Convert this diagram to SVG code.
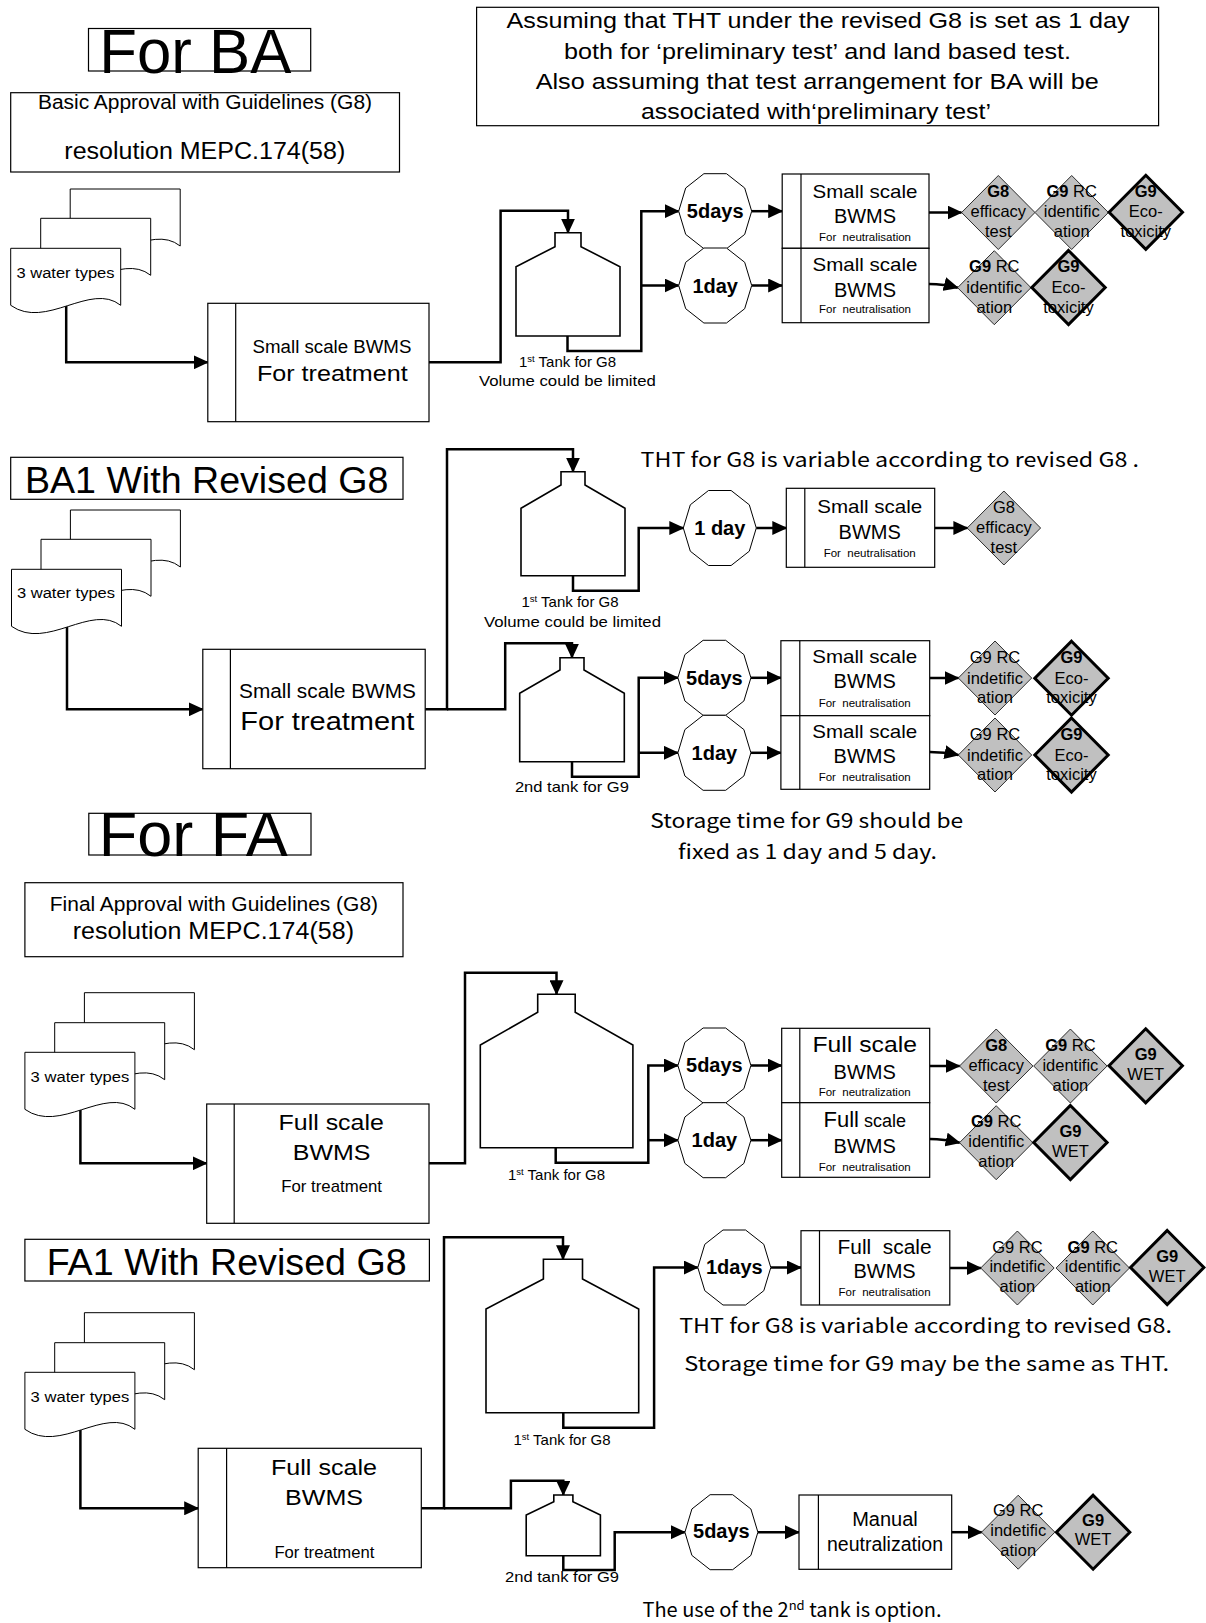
<svg xmlns="http://www.w3.org/2000/svg" width="1206" height="1623" viewBox="0 0 1206 1623">
<style>
 .bx{fill:#fff;stroke:#000;stroke-width:1.2}
 .ln{fill:none;stroke:#000;stroke-width:1.2}
 .c{fill:none;stroke:#000;stroke-width:2.5}
 .ca{fill:none;stroke:#000;stroke-width:2.5;marker-end:url(#ah)}
 .doc{fill:#fff;stroke:#000;stroke-width:1}
 .tank{fill:#fff;stroke:#000;stroke-width:1.6}
 .oct{fill:#fff;stroke:#000;stroke-width:1}
 .dg{fill:#c0c0c0;stroke:#000;stroke-width:0.8}
 .dk{fill:#c0c0c0;stroke:#000;stroke-width:3}
 text{font-family:"Liberation Sans",Arial,sans-serif;fill:#000}
 .m{text-anchor:middle}
 .b{font-weight:bold}
 .oc{font-size:20px;font-weight:bold;text-anchor:middle}
 .dt{font-size:16.5px;text-anchor:middle}
 .sm{font-size:11.5px;text-anchor:middle}
 .tk{font-size:15px;text-anchor:middle}
 .wt{font-size:15.5px}
 .jp{font-family:"Noto Sans CJK JP","Noto Sans",sans-serif;font-size:20px}
</style>
<defs>
 <marker id="ah" markerWidth="15" markerHeight="14" refX="14" refY="7" orient="auto" markerUnits="userSpaceOnUse"><path d="M0,0 L15,7 L0,14 Z" fill="#000"/></marker>
 <path id="doc" d="M0,0 H110 V57 C80,33 35,82 0,57 Z"/>
 <polygon id="dec" points="11.3,-37.5 -11.3,-37.5 -29.5,-23.2 -36.5,0 -29.5,23.2 -11.3,37.5 11.3,37.5 29.5,23.2 36.5,0 29.5,-23.2"/>
 <polygon id="dia" points="0,-37 36.7,0 0,37 -36.7,0"/>
</defs>

<g id="connectors">
 <!-- BA -->
 <path class="ca" d="M66.2,305 V362.3 H207.8"/>
 <path class="ca" d="M429,362.3 H500.6 V210.7 H568 V232.7"/>
 <path class="ca" d="M567.5,336 V351 H641.3 V211.2 H678.7"/>
 <path class="ca" d="M641.3,285.5 H678.7"/>
 <path class="ca" d="M751.7,211.2 H782.2"/>
 <path class="ca" d="M751.7,285.5 H782.2"/>
 <path class="ca" d="M929,212.5 H961.5"/>
 <path class="ca" d="M929,284 Q944,284 957.8,287.7"/>
 <!-- BA1 -->
 <path class="ca" d="M67,626 V709.3 H202.8"/>
 <path class="ca" d="M425.2,709.3 H447 V449.3 H573 V471.7"/>
 <path class="ca" d="M447,709.3 H505.2 V643.3 H572 V657.7"/>
 <path class="ca" d="M573,575.7 V590.7 H638.7 V528 H683.3"/>
 <path class="ca" d="M756.3,528 H786.3"/>
 <path class="ca" d="M934.7,528 H967.4"/>
 <path class="ca" d="M572,761.7 V776.7 H638.7 V677.8 H677.9"/>
 <path class="ca" d="M638.7,752.8 H677.9"/>
 <path class="ca" d="M750.9,677.8 H780.9"/>
 <path class="ca" d="M750.9,752.8 H780.9"/>
 <path class="ca" d="M929.7,678 H958.5"/>
 <path class="ca" d="M929.7,752 Q944,752 958.5,755"/>
 <!-- FA -->
 <path class="ca" d="M80.4,1110 V1163.3 H206.7"/>
 <path class="ca" d="M429,1163.3 H465 V972.7 H556.5 V994.3"/>
 <path class="ca" d="M555.7,1147.7 V1162.7 H648.3 V1065.5 H677.9"/>
 <path class="ca" d="M648.3,1140.2 H677.9"/>
 <path class="ca" d="M750.9,1065.5 H781.7"/>
 <path class="ca" d="M750.9,1140.2 H781.7"/>
 <path class="ca" d="M929.7,1066 H959.7"/>
 <path class="ca" d="M929.7,1139 Q944,1139 959.7,1142.7"/>
 <!-- FA1 -->
 <path class="ca" d="M80.4,1430 V1508.3 H198.2"/>
 <path class="ca" d="M421.3,1508.3 H444 V1237.3 H563 V1259.3"/>
 <path class="ca" d="M444,1508.3 H510.9 V1480.7 H563.3 V1495"/>
 <path class="ca" d="M563.3,1412.7 V1427.7 H654.1 V1267.5 H697.8"/>
 <path class="ca" d="M770.8,1267.5 H801"/>
 <path class="ca" d="M949.8,1268 H980.9"/>
 <path class="ca" d="M563.3,1555.7 V1570 H614.7 V1532.2 H684.9"/>
 <path class="ca" d="M757.9,1532.2 H799"/>
 <path class="ca" d="M951.7,1532.2 H981.7"/>
</g>

<!-- ================= BA ================= -->
<g id="ba-title">
 <rect class="bx" x="88.5" y="28.5" width="222.2" height="42.5"/>
 <text x="99.3" y="72.7" font-size="63" textLength="192" lengthAdjust="spacingAndGlyphs">For BA</text>
</g>
<g id="ba-basic">
 <rect class="bx" x="10.7" y="92.7" width="388.8" height="79.3"/>
 <text x="38" y="109" font-size="19.5" textLength="334" lengthAdjust="spacingAndGlyphs">Basic Approval with Guidelines (G8)</text>
 <text x="64.3" y="159.3" font-size="24.6" textLength="281" lengthAdjust="spacingAndGlyphs">resolution MEPC.174(58)</text>
</g>
<g id="assumption">
 <rect class="bx" x="476.6" y="7.3" width="682" height="118.4"/>
 <text x="506.6" y="28.3" font-size="21.5" textLength="623" lengthAdjust="spacingAndGlyphs">Assuming that THT under the revised G8 is set as 1 day</text>
 <text x="564" y="59.3" font-size="21.5" textLength="507" lengthAdjust="spacingAndGlyphs">both for ‘preliminary test’ and land based test.</text>
 <text x="535.7" y="89.3" font-size="21.5" textLength="563" lengthAdjust="spacingAndGlyphs">Also assuming that test arrangement for BA will be</text>
 <text x="641" y="119.3" font-size="21.5" textLength="350" lengthAdjust="spacingAndGlyphs">associated with‘preliminary test’</text>
</g>
<g id="ba-water">
 <use href="#doc" class="doc" x="70.2" y="189"/>
 <use href="#doc" class="doc" x="40.7" y="218.3"/>
 <use href="#doc" class="doc" x="10.7" y="248.3"/>
 <text class="wt" x="16.5" y="277.7" textLength="98" lengthAdjust="spacingAndGlyphs">3 water types</text>
</g>
<g id="ba-bwms">
 <rect class="bx" x="207.8" y="303.3" width="221.2" height="118.4"/>
 <line class="ln" x1="235.7" y1="303.3" x2="235.7" y2="421.7"/>
 <text x="252.6" y="352.7" font-size="18" textLength="158.8" lengthAdjust="spacingAndGlyphs">Small scale BWMS</text>
 <text x="257" y="381" font-size="22.5" textLength="150.6" lengthAdjust="spacingAndGlyphs">For treatment</text>
</g>
<g id="ba-tank">
 <path class="tank" d="M555,232.7 H581 V246.7 L620,266.7 V336 H516 V266.7 L555,246.7 Z"/>
 <text class="tk" x="567.5" y="366.7">1<tspan font-size="9.5" dy="-5">st</tspan><tspan dy="5"> Tank for G8</tspan></text>
 <text class="tk" x="567.4" y="386" textLength="177" lengthAdjust="spacingAndGlyphs">Volume could be limited</text>
</g>
<g id="ba-5days">
 <use href="#dec" class="oct" x="715.2" y="211.2"/>
 <text class="oc" x="715.2" y="218">5days</text>
</g>
<g id="ba-1day">
 <use href="#dec" class="oct" x="715.2" y="285.5"/>
 <text class="oc" x="715.2" y="293">1day</text>
</g>
<g id="ba-neut1">
 <rect class="bx" x="782.2" y="174" width="146.8" height="74.3"/>
 <line class="ln" x1="801" y1="174" x2="801" y2="248.3"/>
 <text class="m" x="865" y="198.3" font-size="19" textLength="105" lengthAdjust="spacingAndGlyphs">Small scale</text>
 <text class="m" x="865" y="222.7" font-size="20">BWMS</text>
 <text class="sm" x="865" y="240.7">For&#160; neutralisation</text>
</g>
<g id="ba-neut2">
 <rect class="bx" x="782.2" y="248.3" width="146.8" height="74.4"/>
 <line class="ln" x1="801" y1="248.3" x2="801" y2="322.7"/>
 <text class="m" x="865" y="270.7" font-size="19" textLength="105" lengthAdjust="spacingAndGlyphs">Small scale</text>
 <text class="m" x="865" y="296.7" font-size="20">BWMS</text>
 <text class="sm" x="865" y="313.3">For&#160; neutralisation</text>
</g>
<g id="ba-g8eff">
 <use href="#dia" class="dg" x="998.3" y="212.5"/>
 <text class="dt" x="998.3" y="197"><tspan class="b">G8</tspan></text>
 <text class="dt" x="998.3" y="217">efficacy</text>
 <text class="dt" x="998.3" y="237">test</text>
</g>
<g id="ba-g9rc1">
 <use href="#dia" class="dg" x="1071.7" y="212.5"/>
 <text class="dt" x="1071.7" y="197"><tspan class="b">G9</tspan> RC</text>
 <text class="dt" x="1071.7" y="217">identific</text>
 <text class="dt" x="1071.7" y="237">ation</text>
</g>
<g id="ba-g9eco1">
 <use href="#dia" class="dk" x="1145.8" y="212.3"/>
 <text class="dt" x="1145.8" y="197"><tspan class="b">G9</tspan></text>
 <text class="dt" x="1145.8" y="217">Eco-</text>
 <text class="dt" x="1145.8" y="237">toxicity</text>
</g>
<g id="ba-g9rc2">
 <use href="#dia" class="dg" x="994.3" y="287.7"/>
 <text class="dt" x="994.3" y="271.5"><tspan class="b">G9</tspan> RC</text>
 <text class="dt" x="994.3" y="292.5">identific</text>
 <text class="dt" x="994.3" y="312.5">ation</text>
</g>
<g id="ba-g9eco2">
 <use href="#dia" class="dk" x="1068.5" y="287.5"/>
 <text class="dt" x="1068.5" y="271.5"><tspan class="b">G9</tspan></text>
 <text class="dt" x="1068.5" y="292.5">Eco-</text>
 <text class="dt" x="1068.5" y="312.5">toxicity</text>
</g>

<!-- ================= BA1 ================= -->
<g id="ba1-title">
 <rect class="bx" x="10.7" y="457.3" width="392.3" height="42"/>
 <text x="24.9" y="493.3" font-size="36" textLength="363.5" lengthAdjust="spacingAndGlyphs">BA1 With Revised G8</text>
</g>
<g id="ba1-water">
 <use href="#doc" class="doc" x="70.4" y="510"/>
 <use href="#doc" class="doc" x="41" y="539.3"/>
 <use href="#doc" class="doc" x="11.5" y="569.3"/>
 <text class="wt" x="17" y="598.3" textLength="98" lengthAdjust="spacingAndGlyphs">3 water types</text>
</g>
<g id="ba1-bwms">
 <rect class="bx" x="202.8" y="649.3" width="222.4" height="119.4"/>
 <line class="ln" x1="230.4" y1="649.3" x2="230.4" y2="768.7"/>
 <text x="239" y="697.7" font-size="20" textLength="177" lengthAdjust="spacingAndGlyphs">Small scale BWMS</text>
 <text x="240.3" y="730" font-size="26" textLength="174" lengthAdjust="spacingAndGlyphs">For treatment</text>
</g>
<g id="ba1-tank1">
 <path class="tank" d="M561,471.7 H585 V485 L625,508.3 V575.7 H521 V508.3 L561,485 Z"/>
 <text class="tk" x="570" y="606.7">1<tspan font-size="9.5" dy="-5">st</tspan><tspan dy="5"> Tank for G8</tspan></text>
 <text class="tk" x="572.5" y="626.7" textLength="177" lengthAdjust="spacingAndGlyphs">Volume could be limited</text>
</g>
<g id="ba1-tank2">
 <path class="tank" d="M560,657.7 H584 V670 L624.3,693.3 V761.7 H519.7 V693.3 L560,670 Z"/>
 <text class="tk" x="571.9" y="791.7" textLength="114" lengthAdjust="spacingAndGlyphs">2nd tank for G9</text>
</g>
<g id="ba1-tht-note">
 <text class="jp" x="640.6" y="467.3" textLength="498.4" lengthAdjust="spacingAndGlyphs">THT for G8 is variable according to revised G8 .</text>
</g>
<g id="ba1-1day">
 <use href="#dec" class="oct" x="719.8" y="528"/>
 <text class="oc" x="719.8" y="535">1 day</text>
</g>
<g id="ba1-neut0">
 <rect class="bx" x="786.3" y="488.3" width="148.4" height="79"/>
 <line class="ln" x1="804.8" y1="488.3" x2="804.8" y2="567.3"/>
 <text class="m" x="869.7" y="513.3" font-size="19" textLength="105" lengthAdjust="spacingAndGlyphs">Small scale</text>
 <text class="m" x="869.7" y="539.3" font-size="20">BWMS</text>
 <text class="sm" x="869.7" y="556.7">For&#160; neutralisation</text>
</g>
<g id="ba1-g8eff">
 <use href="#dia" class="dg" x="1003.9" y="528"/>
 <text class="dt" x="1003.9" y="512.7">G8</text>
 <text class="dt" x="1003.9" y="533.3">efficacy</text>
 <text class="dt" x="1003.9" y="553.3">test</text>
</g>
<g id="ba1-5days">
 <use href="#dec" class="oct" x="714.4" y="677.8"/>
 <text class="oc" x="714.4" y="685">5days</text>
</g>
<g id="ba1-1dayb">
 <use href="#dec" class="oct" x="714.4" y="752.8"/>
 <text class="oc" x="714.4" y="760">1day</text>
</g>
<g id="ba1-neut1">
 <rect class="bx" x="780.9" y="640.7" width="148.8" height="75"/>
 <line class="ln" x1="799.8" y1="640.7" x2="799.8" y2="715.7"/>
 <text class="m" x="864.7" y="663.3" font-size="19" textLength="105" lengthAdjust="spacingAndGlyphs">Small scale</text>
 <text class="m" x="864.7" y="688.3" font-size="20">BWMS</text>
 <text class="sm" x="864.7" y="706.7">For&#160; neutralisation</text>
</g>
<g id="ba1-neut2">
 <rect class="bx" x="780.9" y="715.7" width="148.8" height="73.6"/>
 <line class="ln" x1="799.8" y1="715.7" x2="799.8" y2="789.3"/>
 <text class="m" x="864.7" y="738.3" font-size="19" textLength="105" lengthAdjust="spacingAndGlyphs">Small scale</text>
 <text class="m" x="864.7" y="763.3" font-size="20">BWMS</text>
 <text class="sm" x="864.7" y="780.7">For&#160; neutralisation</text>
</g>
<g id="ba1-g9rc1">
 <use href="#dia" class="dg" x="995" y="678"/>
 <text class="dt" x="995" y="663.3">G9 RC</text>
 <text class="dt" x="995" y="684">indetific</text>
 <text class="dt" x="995" y="703.3">ation</text>
</g>
<g id="ba1-g9eco1">
 <use href="#dia" class="dk" x="1071.5" y="678.2"/>
 <text class="dt" x="1071.5" y="663.3"><tspan class="b">G9</tspan></text>
 <text class="dt" x="1071.5" y="684">Eco-</text>
 <text class="dt" x="1071.5" y="703.3">toxicity</text>
</g>
<g id="ba1-g9rc2">
 <use href="#dia" class="dg" x="995" y="755"/>
 <text class="dt" x="995" y="740.3">G9 RC</text>
 <text class="dt" x="995" y="761">indetific</text>
 <text class="dt" x="995" y="780.3">ation</text>
</g>
<g id="ba1-g9eco2">
 <use href="#dia" class="dk" x="1071.5" y="755"/>
 <text class="dt" x="1071.5" y="740.3"><tspan class="b">G9</tspan></text>
 <text class="dt" x="1071.5" y="761">Eco-</text>
 <text class="dt" x="1071.5" y="780.3">toxicity</text>
</g>
<g id="ba1-storage-note">
 <text class="jp" x="650.2" y="828.3" textLength="313" lengthAdjust="spacingAndGlyphs">Storage time for G9 should be</text>
 <text class="jp" x="678" y="859" textLength="259" lengthAdjust="spacingAndGlyphs">fixed as 1 day and 5 day.</text>
</g>

<!-- ================= FA ================= -->
<g id="fa-title">
 <rect class="bx" x="88.8" y="813.3" width="222.2" height="41.7"/>
 <text x="98.7" y="856" font-size="63" textLength="189" lengthAdjust="spacingAndGlyphs">For FA</text>
</g>
<g id="fa-final">
 <rect class="bx" x="24.9" y="882.7" width="378.1" height="74"/>
 <text x="49.8" y="911" font-size="19.5" textLength="328.2" lengthAdjust="spacingAndGlyphs">Final Approval with Guidelines (G8)</text>
 <text x="72.7" y="939.3" font-size="24.6" textLength="281.3" lengthAdjust="spacingAndGlyphs">resolution MEPC.174(58)</text>
</g>
<g id="fa-water">
 <use href="#doc" class="doc" x="84.4" y="992.7"/>
 <use href="#doc" class="doc" x="54.7" y="1022.7"/>
 <use href="#doc" class="doc" x="24.9" y="1052.3"/>
 <text class="wt" x="30.6" y="1081.7" textLength="98.8" lengthAdjust="spacingAndGlyphs">3 water types</text>
</g>
<g id="fa-bwms">
 <rect class="bx" x="206.7" y="1104" width="222.3" height="119.3"/>
 <line class="ln" x1="234.2" y1="1104" x2="234.2" y2="1223.3"/>
 <text x="278.6" y="1130" font-size="22" textLength="105.2" lengthAdjust="spacingAndGlyphs">Full scale</text>
 <text x="292.8" y="1160" font-size="22" textLength="77.7" lengthAdjust="spacingAndGlyphs">BWMS</text>
 <text x="281.3" y="1191.7" font-size="17" textLength="100.7" lengthAdjust="spacingAndGlyphs">For treatment</text>
</g>
<g id="fa-tank">
 <path class="tank" d="M537.7,994.3 H575.2 V1012.3 L632.9,1045 V1147.7 H480.3 V1045 L537.7,1012.3 Z"/>
 <text class="tk" x="556.5" y="1180">1<tspan font-size="9.5" dy="-5">st</tspan><tspan dy="5"> Tank for G8</tspan></text>
</g>
<g id="fa-5days">
 <use href="#dec" class="oct" x="714.4" y="1065.5"/>
 <text class="oc" x="714.4" y="1071.7">5days</text>
</g>
<g id="fa-1day">
 <use href="#dec" class="oct" x="714.4" y="1140.2"/>
 <text class="oc" x="714.4" y="1146.7">1day</text>
</g>
<g id="fa-neut1">
 <rect class="bx" x="781.7" y="1028.3" width="148" height="74.4"/>
 <line class="ln" x1="799.8" y1="1028.3" x2="799.8" y2="1102.7"/>
 <text class="m" x="864.7" y="1051.7" font-size="22" textLength="104.4" lengthAdjust="spacingAndGlyphs">Full scale</text>
 <text class="m" x="864.7" y="1079.3" font-size="20">BWMS</text>
 <text class="sm" x="864.7" y="1096">For&#160; neutralization</text>
</g>
<g id="fa-neut2">
 <rect class="bx" x="781.7" y="1102.7" width="148" height="74.6"/>
 <line class="ln" x1="799.8" y1="1102.7" x2="799.8" y2="1177.3"/>
 <text class="m" x="864.7" y="1126.7"><tspan font-size="22">Full</tspan><tspan font-size="18"> scale</tspan></text>
 <text class="m" x="864.7" y="1153.3" font-size="20">BWMS</text>
 <text class="sm" x="864.7" y="1170.7">For&#160; neutralisation</text>
</g>
<g id="fa-g8eff">
 <use href="#dia" class="dg" x="996.2" y="1066"/>
 <text class="dt" x="996.2" y="1051"><tspan class="b">G8</tspan></text>
 <text class="dt" x="996.2" y="1071">efficacy</text>
 <text class="dt" x="996.2" y="1091">test</text>
</g>
<g id="fa-g9rc1">
 <use href="#dia" class="dg" x="1070.4" y="1066"/>
 <text class="dt" x="1070.4" y="1051"><tspan class="b">G9</tspan> RC</text>
 <text class="dt" x="1070.4" y="1071">identific</text>
 <text class="dt" x="1070.4" y="1091">ation</text>
</g>
<g id="fa-g9wet1">
 <use href="#dia" class="dk" x="1145.7" y="1065.8"/>
 <text class="dt b" x="1145.7" y="1060">G9</text>
 <text class="dt" x="1145.7" y="1080">WET</text>
</g>
<g id="fa-g9rc2">
 <use href="#dia" class="dg" x="996.2" y="1142.7"/>
 <text class="dt" x="996.2" y="1126.7"><tspan class="b">G9</tspan> RC</text>
 <text class="dt" x="996.2" y="1146.7">identific</text>
 <text class="dt" x="996.2" y="1166.7">ation</text>
</g>
<g id="fa-g9wet2">
 <use href="#dia" class="dk" x="1070.4" y="1142.5"/>
 <text class="dt b" x="1070.4" y="1136.7">G9</text>
 <text class="dt" x="1070.4" y="1156.7">WET</text>
</g>

<!-- ================= FA1 ================= -->
<g id="fa1-title">
 <rect class="bx" x="24.9" y="1239.3" width="404.5" height="41.7"/>
 <text x="46.7" y="1275" font-size="36" textLength="360.1" lengthAdjust="spacingAndGlyphs">FA1 With Revised G8</text>
</g>
<g id="fa1-water">
 <use href="#doc" class="doc" x="84.4" y="1312.7"/>
 <use href="#doc" class="doc" x="54.7" y="1342.7"/>
 <use href="#doc" class="doc" x="24.9" y="1372.3"/>
 <text class="wt" x="30.6" y="1401.7" textLength="98.8" lengthAdjust="spacingAndGlyphs">3 water types</text>
</g>
<g id="fa1-bwms">
 <rect class="bx" x="198.2" y="1448.3" width="223.1" height="119.4"/>
 <line class="ln" x1="226.6" y1="1448.3" x2="226.6" y2="1567.7"/>
 <text x="271" y="1475" font-size="22" textLength="106" lengthAdjust="spacingAndGlyphs">Full scale</text>
 <text x="285" y="1505" font-size="22" textLength="78" lengthAdjust="spacingAndGlyphs">BWMS</text>
 <text x="274.4" y="1558.3" font-size="17" textLength="99.9" lengthAdjust="spacingAndGlyphs">For treatment</text>
</g>
<g id="fa1-tank1">
 <path class="tank" d="M543.4,1259.3 H582.5 V1279 L638.7,1309 V1412.7 H486 V1309 L543.4,1279 Z"/>
 <text class="tk" x="562" y="1445">1<tspan font-size="9.5" dy="-5">st</tspan><tspan dy="5"> Tank for G8</tspan></text>
</g>
<g id="fa1-tank2">
 <path class="tank" d="M553.8,1495 H572.9 V1501.7 L600.4,1515 V1555.7 H526.2 V1515 L553.8,1501.7 Z"/>
 <text class="tk" x="562" y="1581.7" textLength="114" lengthAdjust="spacingAndGlyphs">2nd tank for G9</text>
</g>
<g id="fa1-1days">
 <use href="#dec" class="oct" x="734.3" y="1267.5"/>
 <text class="oc" x="734.3" y="1274" font-size="19">1days</text>
</g>
<g id="fa1-neut">
 <rect class="bx" x="801" y="1230.7" width="148.8" height="74.3"/>
 <line class="ln" x1="819.5" y1="1230.7" x2="819.5" y2="1305"/>
 <text class="m" x="884.6" y="1254" font-size="20" textLength="94" lengthAdjust="spacingAndGlyphs">Full&#160; scale</text>
 <text class="m" x="884.6" y="1278.3" font-size="20">BWMS</text>
 <text class="sm" x="884.6" y="1296">For&#160; neutralisation</text>
</g>
<g id="fa1-g9rc1">
 <use href="#dia" class="dg" x="1017.4" y="1268"/>
 <text class="dt" x="1017.4" y="1253.3">G9 RC</text>
 <text class="dt" x="1017.4" y="1272.3">indetific</text>
 <text class="dt" x="1017.4" y="1291.7">ation</text>
</g>
<g id="fa1-g9rc2">
 <use href="#dia" class="dg" x="1092.8" y="1268"/>
 <text class="dt" x="1092.8" y="1253.3"><tspan class="b">G9</tspan> RC</text>
 <text class="dt" x="1092.8" y="1272.3">identific</text>
 <text class="dt" x="1092.8" y="1291.7">ation</text>
</g>
<g id="fa1-g9wet1">
 <use href="#dia" class="dk" x="1167.2" y="1267.5"/>
 <text class="dt b" x="1167.2" y="1261.7">G9</text>
 <text class="dt" x="1167.2" y="1281.7">WET</text>
</g>
<g id="fa1-tht-note">
 <text class="jp" x="679.2" y="1332.7" textLength="492.8" lengthAdjust="spacingAndGlyphs">THT for G8 is variable according to revised G8.</text>
 <text class="jp" x="684.3" y="1370.7" textLength="484.7" lengthAdjust="spacingAndGlyphs">Storage time for G9 may be the same as THT.</text>
</g>
<g id="fa1-5days">
 <use href="#dec" class="oct" x="721.4" y="1532.2"/>
 <text class="oc" x="721.4" y="1538.3">5days</text>
</g>
<g id="fa1-manual">
 <rect class="bx" x="799" y="1495" width="152.7" height="74.3"/>
 <line class="ln" x1="818.4" y1="1495" x2="818.4" y2="1569.3"/>
 <text class="m" x="885" y="1526" font-size="20">Manual</text>
 <text class="m" x="885" y="1550.7" font-size="19.5">neutralization</text>
</g>
<g id="fa1-g9rc3">
 <use href="#dia" class="dg" x="1018.2" y="1532.2"/>
 <text class="dt" x="1018.2" y="1516">G9 RC</text>
 <text class="dt" x="1018.2" y="1536">indetific</text>
 <text class="dt" x="1018.2" y="1555.5">ation</text>
</g>
<g id="fa1-g9wet2">
 <use href="#dia" class="dk" x="1093.1" y="1532.2"/>
 <text class="dt b" x="1093.1" y="1526">G9</text>
 <text class="dt" x="1093.1" y="1545">WET</text>
</g>
<g id="fa1-option-note">
 <text class="jp" x="642.5" y="1616.7">The use of the 2<tspan font-size="13" dy="-7">nd</tspan><tspan dy="7"> tank is option.</tspan></text>
</g>
</svg>
